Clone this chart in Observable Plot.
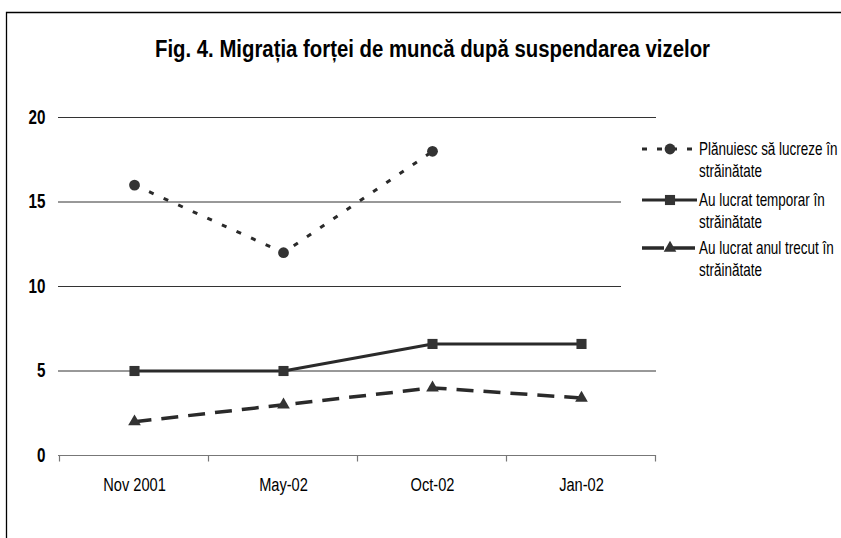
<!DOCTYPE html>
<html><head><meta charset="utf-8">
<script src="https://cdn.jsdelivr.net/npm/d3@7"></script>
<script src="https://cdn.jsdelivr.net/npm/@observablehq/plot@0.6"></script>
<style>body{margin:0;background:#fff} svg{display:block}</style>
</head><body><div id="chart"></div>
<script>
const categories = ["Nov 2001", "May-02", "Oct-02", "Jan-02"];
const planuiesc = [16, 12, 18, null];
const temporar = [5, 5, 6.6, 6.6];
const anulTrecut = [2, 3, 4, 3.4];
const yTicks = [0, 5, 10, 15, 20];
const gridTicks = [5, 10, 15, 20];
const title = "Fig. 4. Migrația forței de muncă după suspendarea vizelor";
const legendLines = [
  ["Plănuiesc să lucreze în", "străinătate"],
  ["Au lucrat temporar în", "străinătate"],
  ["Au lucrat anul trecut în", "străinătate"]
];

const FN = "'Liberation Sans',Arial,sans-serif";
const INK = "#333";
const LINE = "#2a2a2a";
const styles = [
  {symbol: "circle", r: 5.4, strokeWidth: 3, dash: "5,11", legendDash: "5,10"},
  {symbol: "square", r: 5.7, strokeWidth: 3, dash: null, legendDash: null},
  {symbol: "triangle", r: 4.7, strokeWidth: 3.5, dash: "17,10", legendDash: "22,9"}
];
const seriesValues = [planuiesc, temporar, anulTrecut];
const rows = (vals) => categories.map((c, i) => ({cat: c, v: vals[i]}));

const marks = [
  Plot.ruleY(gridTicks, {stroke: "#333", strokeWidth: 1}),
  Plot.ruleY([0], {stroke: "#777", strokeWidth: 1.2}),
  Plot.text(yTicks, {y: d => d, frameAnchor: "left", dx: -13, textAnchor: "end", text: d => String(d),
    fontFamily: FN, fontWeight: "bold", fontSize: 19.5, fill: "#000"}),
  Plot.text(categories, {x: d => d, frameAnchor: "bottom", dy: 35, text: d => d,
    fontFamily: FN, fontSize: 19, fill: "#000"})
];
seriesValues.forEach((vals, k) => {
  const s = styles[k];
  marks.push(Plot.line(rows(vals), {x: "cat", y: "v", stroke: LINE, strokeWidth: s.strokeWidth,
    strokeDasharray: s.dash || undefined, strokeLinecap: "butt", strokeLinejoin: "miter"}));
  marks.push(Plot.dot(rows(vals).filter(d => d.v != null), {x: "cat", y: "v", symbol: s.symbol, r: s.r, fill: INK, stroke: "none"}));
});

const chart = Plot.plot({
  width: 841, height: 538,
  marginLeft: 58, marginRight: 185, marginTop: 117, marginBottom: 83,
  x: {type: "point", domain: categories, padding: 0.5, axis: null},
  y: {domain: [0, 20], axis: null},
  style: {background: "#fff", fontFamily: FN},
  marks
});

// condense Plot's text labels (narrow face look)
d3.select(chart).selectAll("text").each(function() {
  const el = d3.select(this);
  const sx = categories.includes(el.text()) ? 0.77 : 0.78;
  let tr = el.attr("transform");
  if (!tr) {
    const x = +(el.attr("x") || 0), y = +(el.attr("y") || 0);
    tr = `translate(${x},${y})`;
    el.attr("x", null).attr("y", null);
  }
  el.attr("transform", `${tr} scale(${sx},1)`);
});

const svg = d3.select(chart);
const xs = chart.scale("x");
const ys = chart.scale("y");
const step = (xs.apply(categories[1]) - xs.apply(categories[0]));
const y0 = ys.apply(0);
const bounds = categories.map(c => xs.apply(c) - step / 2).concat([xs.apply(categories[categories.length - 1]) + step / 2]);
svg.append("g").selectAll("line").data(bounds).join("line")
  .attr("x1", d => d).attr("x2", d => d).attr("y1", y0).attr("y2", y0 + 6.5)
  .attr("stroke", "#777").attr("stroke-width", 1.2);

// frame (top and left edges visible)
svg.append("path").attr("d", "M6.5,538V12.5H841").attr("fill", "none").attr("stroke", "#000").attr("stroke-width", 1.3);

// title
svg.append("text").attr("x", 155).attr("y", 56.5).attr("text-anchor", "start")
  .attr("textLength", 555).attr("lengthAdjust", "spacingAndGlyphs")
  .attr("font-family", FN).attr("font-weight", "bold").attr("font-size", 23.3).attr("fill", "#000").text(title);

// legend
const lg = svg.append("g");
lg.append("rect").attr("x", 621).attr("y", 133).attr("width", 200).attr("height", 160).attr("fill", "#fff");
const entryY = [149, 200, 248];
const symbolGen = {circle: d3.symbolCircle, square: d3.symbolSquare, triangle: d3.symbolTriangle};
styles.forEach((s, k) => {
  const y = entryY[k];
  const g = lg.append("g");
  const ln = g.append("line").attr("x1", 642).attr("x2", 697).attr("y1", y).attr("y2", y)
    .attr("stroke", LINE).attr("stroke-width", s.strokeWidth);
  if (s.legendDash) ln.attr("stroke-dasharray", s.legendDash);
  g.append("path").attr("transform", `translate(670,${y})`)
    .attr("d", d3.symbol(symbolGen[s.symbol], Math.PI * s.r * s.r)()).attr("fill", INK);
  legendLines[k].forEach((t, j) => {
    g.append("text").attr("transform", `translate(699,${y + j * 21.5}) scale(0.77,1)`).attr("dy", "0.35em")
      .attr("text-anchor", "start")
      .attr("font-family", FN).attr("font-size", 17.5).attr("fill", "#000").text(t);
  });
});

document.getElementById("chart").appendChild(chart);
</script>
</body></html>
